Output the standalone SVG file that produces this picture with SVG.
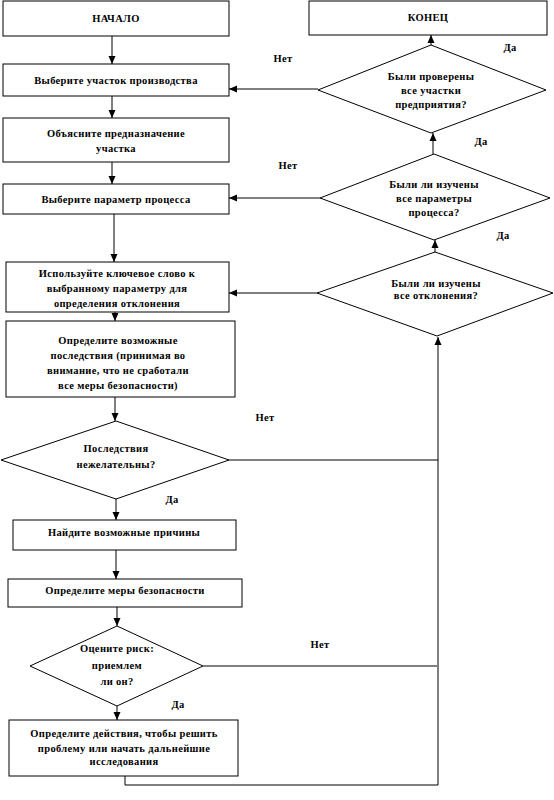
<svg xmlns="http://www.w3.org/2000/svg" width="554" height="800" viewBox="0 0 554 800">
<style>
.box{fill:#fff;stroke:#000;stroke-width:1}
.t{font-family:"Liberation Serif","Times New Roman",serif;font-weight:bold;font-size:10.5px;letter-spacing:0.35px;text-anchor:middle;fill:#000}
.c{fill:none;stroke:#000;stroke-width:1}
</style>
<defs>
<marker id="ah" markerUnits="userSpaceOnUse" markerWidth="8" markerHeight="8" refX="8" refY="4" orient="auto">
<path d="M0,0.5 L8,4 L0,7.5 z" fill="#000"/>
</marker>
</defs>
<rect width="554" height="800" fill="#fff"/>
<g id="connectors">
<line class="c" x1="112" y1="36" x2="112" y2="64" marker-end="url(#ah)"/>
<line class="c" x1="112" y1="96" x2="112" y2="118" marker-end="url(#ah)"/>
<line class="c" x1="112" y1="162" x2="112" y2="184" marker-end="url(#ah)"/>
<line class="c" x1="114" y1="214" x2="114" y2="262" marker-end="url(#ah)"/>
<line class="c" x1="115" y1="312" x2="115" y2="321" marker-end="url(#ah)"/>
<line class="c" x1="115" y1="397" x2="115" y2="421" marker-end="url(#ah)"/>
<line class="c" x1="116" y1="499" x2="116" y2="520" marker-end="url(#ah)"/>
<line class="c" x1="116" y1="550" x2="116" y2="579" marker-end="url(#ah)"/>
<line class="c" x1="117" y1="607" x2="117" y2="626" marker-end="url(#ah)"/>
<line class="c" x1="117" y1="706" x2="117" y2="720" marker-end="url(#ah)"/>
<line class="c" x1="229" y1="460" x2="438" y2="460"/>
<line class="c" x1="203" y1="666" x2="437" y2="666"/>
<polyline class="c" points="125,776 125,785 438,785 438,337" marker-end="url(#ah)"/>
<line class="c" x1="317" y1="293" x2="229" y2="293" marker-end="url(#ah)"/>
<line class="c" x1="320" y1="198" x2="229" y2="198" marker-end="url(#ah)"/>
<line class="c" x1="318" y1="89" x2="229" y2="89" marker-end="url(#ah)"/>
<line class="c" x1="435" y1="252" x2="435" y2="240" marker-end="url(#ah)"/>
<line class="c" x1="433" y1="154" x2="433" y2="133" marker-end="url(#ah)"/>
<line class="c" x1="431" y1="45" x2="431" y2="35" marker-end="url(#ah)"/>
</g>
<g id="start"><rect class="box" x="3" y="1" width="226" height="35"/><text class="t" x="116" y="22">НАЧАЛО</text></g>
<g id="choose-area"><rect class="box" x="3" y="64" width="226" height="32"/><text class="t" x="116" y="84">Выберите участок производства</text></g>
<g id="explain"><rect class="box" x="3" y="118" width="226" height="44"/><text class="t" x="116" y="137">Объясните предназначение</text><text class="t" x="116" y="152">участка</text></g>
<g id="choose-param"><rect class="box" x="3" y="184" width="226" height="30"/><text class="t" x="116" y="203">Выберите параметр процесса</text></g>
<g id="keyword"><rect class="box" x="6" y="262" width="223" height="50"/><text class="t" x="117" y="277">Используйте ключевое слово к</text><text class="t" x="117" y="292">выбранному параметру для</text><text class="t" x="117" y="307">определения отклонения</text></g>
<g id="consequences"><rect class="box" x="6" y="321" width="229" height="76"/><text class="t" x="118" y="344">Определите возможные</text><text class="t" x="118" y="359">последствия (принимая во</text><text class="t" x="118" y="374">внимание, что не сработали</text><text class="t" x="118" y="389">все меры безопасности)</text></g>
<g id="undesirable"><polygon class="box" points="116,421 229,460 116,499 1,460"/><text class="t" x="116" y="452">Последствия</text><text class="t" x="116" y="468">нежелательны?</text></g>
<g id="causes"><rect class="box" x="13" y="520" width="223" height="30"/><text class="t" x="124" y="536">Найдите возможные причины</text></g>
<g id="safety"><rect class="box" x="8" y="579" width="234" height="28"/><text class="t" x="125" y="594">Определите меры безопасности</text></g>
<g id="risk"><polygon class="box" points="117,626 203,666 117,706 30,666"/><text class="t" x="117" y="652">Оцените риск:</text><text class="t" x="117" y="669">приемлем</text><text class="t" x="117" y="685">ли он?</text></g>
<g id="actions"><rect class="box" x="9" y="720" width="229" height="56"/><text class="t" x="124" y="737">Определите действия, чтобы решить</text><text class="t" x="124" y="752">проблему или начать дальнейшие</text><text class="t" x="124" y="765">исследования</text></g>
<g id="end"><rect class="box" x="309" y="1" width="238" height="34"/><text class="t" x="428" y="21">КОНЕЦ</text></g>
<g id="all-areas"><polygon class="box" points="431,45 546,90 431,133 318,90"/><text class="t" x="431" y="80">Были проверены</text><text class="t" x="431" y="94">все участки</text><text class="t" x="431" y="108">предприятия?</text></g>
<g id="all-params"><polygon class="box" points="434,154 550,198 434,240 320,198"/><text class="t" x="434" y="188">Были ли изучены</text><text class="t" x="434" y="202">все параметры</text><text class="t" x="434" y="216">процесса?</text></g>
<g id="all-deviations"><polygon class="box" points="435,252 553,293 437,336 317,293"/><text class="t" x="436" y="287">Были ли изучены</text><text class="t" x="436" y="299">все отклонения?</text></g>
<g id="labels">
<text class="t" x="283" y="62">Нет</text>
<text class="t" x="510" y="51">Да</text>
<text class="t" x="288" y="169">Нет</text>
<text class="t" x="481" y="145">Да</text>
<text class="t" x="503" y="239">Да</text>
<text class="t" x="265" y="421">Нет</text>
<text class="t" x="172" y="503">Да</text>
<text class="t" x="320" y="648">Нет</text>
<text class="t" x="178" y="708">Да</text>
</g>
</svg>
